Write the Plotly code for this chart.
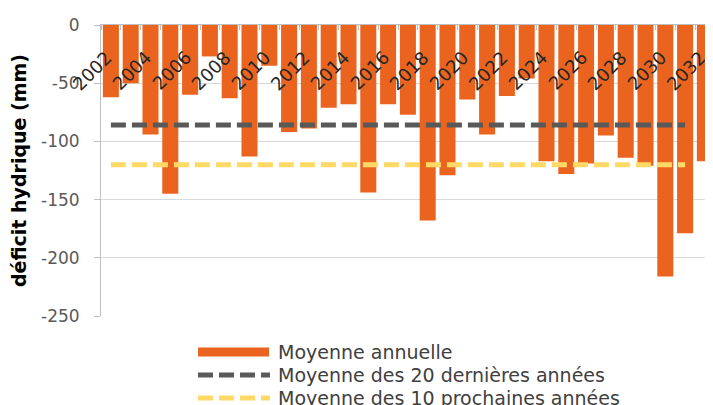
import plotly.graph_objects as go

# ---- data ----
YEARS = list(range(2002, 2033))
DEFICIT = [-62, -50, -94, -145, -60, -27, -63, -113, -35, -92, -89, -71, -68, -144, -68, -77,
           -168, -129, -64, -94, -61, -46, -117, -128, -119, -95, -114, -121, -216, -179, -117]
AVG_LAST20 = -86
AVG_NEXT10 = -120
LINE_YEARS = YEARS[:-1]
TICK_YEARS = YEARS[::2]
TICK_LABELS = [str(y) for y in TICK_YEARS]
Y_TICKS = [0, -50, -100, -150, -200, -250]
Y_LABELS = ["0", "-50", "-100", "-150", "-200", "-250"]

NAMES = ["Moyenne annuelle", "Moyenne des 20 dernières années", "Moyenne des 10 prochaines années"]
ORANGE = "#EA6420"
DARK = "#595959"
YELLOW = "#FFD966"
FONT = "DejaVu Sans"

# the page body adds an 8px offset; size the figure so it fills the 713x405 window
OFF = 8
W, H = 713 - OFF, 405 - OFF
ML, MR, MT, MB = 101 - OFF, 0, 25 - OFF, 89
PLOT_H = H - MT - MB
PLOT_W = W - ML - MR

fig = go.Figure()
fig.add_trace(go.Bar(x=YEARS, y=DEFICIT, marker=dict(color=ORANGE, line=dict(width=0)),
                     name=NAMES[0], showlegend=False))
fig.add_trace(go.Scatter(x=LINE_YEARS, y=[AVG_LAST20] * len(LINE_YEARS), mode="lines",
                         line=dict(color=DARK, width=5, dash="15px,6px"),
                         name=NAMES[1], showlegend=False))
fig.add_trace(go.Scatter(x=LINE_YEARS, y=[AVG_NEXT10] * len(LINE_YEARS), mode="lines",
                         line=dict(color=YELLOW, width=5, dash="15px,6px"),
                         name=NAMES[2], showlegend=False))


def py(pix):
    # window pixel row -> paper y
    return (H - MB - (pix - OFF)) / PLOT_H


def px(pix):
    return (pix - OFF - ML) / PLOT_W


# custom legend (wide symbols like the original)
shapes = []
rows = [352, 375, 398]
shapes.append(dict(type="rect", xref="paper", yref="paper", x0=px(198), x1=px(269),
                   y0=py(rows[0] + 4.5), y1=py(rows[0] - 4.5), fillcolor=ORANGE, line=dict(width=0)))
for r, c in zip(rows[1:], [DARK, YELLOW]):
    shapes.append(dict(type="line", xref="paper", yref="paper", x0=px(198), x1=px(270),
                       y0=py(r), y1=py(r), line=dict(color=c, width=5, dash="15px,6px")))
annotations = []
for r, n in zip(rows, NAMES):
    annotations.append(dict(xref="paper", yref="paper", x=px(276), y=py(r), text=n,
                            showarrow=False, xanchor="left", yanchor="middle",
                            font=dict(family=FONT, size=19, color="#404040")))

# rotated year labels sitting just under the top (zero) axis
for yr, lab in zip(TICK_YEARS, TICK_LABELS):
    annotations.append(dict(xref="x", yref="y", x=yr, y=0, text=lab, showarrow=False,
                            textangle=-45, xanchor="right", yanchor="top",
                            xshift=8, yshift=-19,
                            font=dict(family=FONT, size=18, color="#262626")))

fig.update_layout(
    width=W, height=H, margin=dict(l=ML, r=MR, t=MT, b=MB, autoexpand=False),
    paper_bgcolor="white", plot_bgcolor="white",
    bargap=0.19, showlegend=False,
    shapes=shapes, annotations=annotations,
    font=dict(family=FONT, color="#595959"),
    xaxis=dict(side="top", range=[2001.5, 2001.5 + PLOT_W / 19.8], automargin=False,
               showticklabels=False, ticks="",
               showline=True, linecolor="#BFBFBF", linewidth=1, showgrid=False, zeroline=False,
               minor=dict(tick0=2001.5, dtick=1, ticks="inside", ticklen=5, tickcolor="#BFBFBF",
                          showgrid=False)),
    yaxis=dict(range=[-250, 0], tickmode="array", tickvals=Y_TICKS, ticktext=Y_LABELS,
               automargin=False,
               ticks="outside", ticklen=6, tickcolor="#BFBFBF", ticklabelstandoff=11,
               tickfont=dict(family=FONT, size=17, color="#595959"),
               showline=True, linecolor="#BFBFBF", linewidth=1,
               showgrid=True, gridcolor="#D9D9D9", zeroline=False,
               title=dict(text="<b>déficit hydrique (mm)</b>", standoff=10,
                          font=dict(family=FONT, size=19, color="#000000"))),
)

fig.write_html("out.html")
